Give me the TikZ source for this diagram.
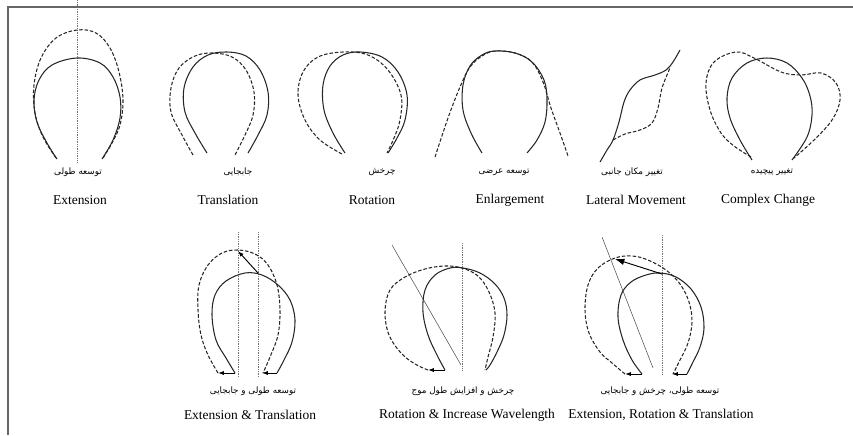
\documentclass[tikz,border=0pt]{standalone}
\usepackage{fontspec}
\setmainfont{Liberation Serif}
\newfontfamily\farsi[Script=Arabic]{DejaVu Sans}
\TeXXeTstate=1
\usetikzlibrary{arrows.meta}

\begin{document}
\begin{tikzpicture}[
  x=0.03cm, y=-0.03cm,
  frame/.style={line width=1.1pt, draw=black!60},
  shoe/.style={line width=0.9pt, draw=black!85, line join=round},
  shoeD/.style={shoe, dash pattern=on 3pt off 1.6pt},
  guide/.style={line width=0.6pt, draw=black!55, dash pattern=on 0.7pt off 0.8pt},
  slant/.style={line width=0.45pt, draw=black!70},
  mvarrow/.style={line width=0.8pt, draw=black, -{Latex[length=5pt,width=3.5pt]}},
  bigarrow/.style={line width=0.8pt, draw=black, -{Latex[length=8pt,width=5.5pt]}},
  fa/.style={font=\farsi\fontsize{7.5}{9}\selectfont, inner sep=0pt},
  en/.style={font=\fontsize{11.5}{13}\selectfont, inner sep=0pt},
]
\useasboundingbox (0,0) rectangle (853,435);

% ── frame ────────────────────────────────────────────────
\draw[frame] (8,435) -- (8,7) -- (853,7);

% ── Extension ────────────────────────────────────────────
\draw[guide] (77,0) -- (77,163);
\draw[shoe] plot[smooth, tension=0.6] coordinates {(57,159) (47,143) (37,122) (34,100) (39,80) (52,65) (77,58) (100,63) (113,77) (120,97) (120,118) (113,140) (102,159)};
\draw[shoeD] plot[smooth, tension=0.6] coordinates {(56,158) (43,137) (35,113) (34,85) (41,58) (56,38) (77,30) (96,33) (110,48) (119,72) (123,100) (120,125) (112,143) (103,158)};
\node[fa] (faExt) at (78,172) {\beginR توسعه طولی\endR};
\node[en] (enExt) at (80,200) {Extension};

% ── Translation ──────────────────────────────────────────
\draw[shoe] plot[smooth, tension=0.6] coordinates {(207,153) (195,133) (185,112) (184,88) (193,67) (208,55) (227,52) (246,56) (260,70) (268,92) (267,115) (258,135) (248,153)};
\draw[shoeD] plot[smooth, tension=0.6] coordinates {(193,155) (182,135) (171,112) (171,88) (179,68) (195,56) (213,53) (232,57) (246,70) (254,92) (253,115) (245,135) (235,155)};
\node[fa] (faTra) at (238,172) {\beginR جابجایی\endR};
\node[en] (enTra) at (228,200) {Translation};

% ── Rotation ─────────────────────────────────────────────
\draw[shoe] plot[smooth, tension=0.6] coordinates {(345,153) (333,133) (324,110) (323,85) (330,66) (343,55) (360,52) (382,57) (398,72) (407,95) (405,120) (397,138) (388,153)};
\draw[shoeD] plot[smooth, tension=0.6] coordinates {(342,154) (320,140) (305,120) (298,95) (303,72) (318,57) (343,52) (368,55) (388,70) (401,95) (400,120) (394,138) (387,153)};
\node[fa] (faRot) at (382,172) {\beginR چرخش\endR};
\node[en] (enRot) at (372,200) {Rotation};

% ── Enlargement ──────────────────────────────────────────
\draw[shoe] plot[smooth, tension=0.6] coordinates {(482,153) (471,133) (463,110) (463,85) (470,66) (482,55) (495,51) (515,53) (532,62) (544,80) (547,100) (545,122) (537,140) (527,153)};
\draw[shoeD] plot[smooth, tension=0.6] coordinates {(435,157) (448,118) (460,87) (470,67) (482,56) (495,51) (515,53) (532,62) (543,82) (551,108) (560,133) (568,156)};
\node[fa] (faEnl) at (504,172) {\beginR توسعه عرضی\endR};
\node[en] (enEnl) at (510,200) {Enlargement};

% ── Lateral Movement ─────────────────────────────────────
\draw[shoe] plot[smooth, tension=0.6] coordinates {(600,162) (607,150) (613,140) (619,122) (624,102) (630,90) (640,80) (655,75) (666,70) (673,62) (680,50)};
\draw[shoeD] plot[smooth, tension=0.6] coordinates {(613,140) (625,134) (640,130) (652,123) (658,108) (662,88) (670,68)};
\node[fa] (faLat) at (632,172) {\beginR تغییر مکان جانبی\endR};
\node[en] (enLat) at (636,200) {Lateral Movement};

% ── Complex Change ───────────────────────────────────────
\draw[shoe] plot[smooth, tension=0.6] coordinates {(752,160) (740,140) (730,118) (727,98) (732,78) (747,63) (767,58) (787,63) (802,78) (810,96) (812,115) (807,137) (792,160)};
\draw[shoeD] plot[smooth, tension=0.6] coordinates {(751,157) (734,146) (721,133) (710,110) (706,83) (714,62) (736,52) (754,58) (781,72) (801,75) (821,73) (836,83) (840,100) (832,120) (814,140) (794,158)};
\node[fa] (faCpx) at (772,172) {\beginR تغییر پیچیده\endR};
\node[en] (enCpx) at (768,200) {Complex Change};

% ── Extension & Translation ──────────────────────────────
\draw[guide] (238,232) -- (238,377);
\draw[guide] (258,232) -- (258,377);
\draw[shoe] plot[smooth, tension=0.6] coordinates {(235,373) (226,358) (216,340) (212,315) (215,295) (226,281) (245,273) (262,275) (278,285) (290,300) (295,320) (292,342) (284,360) (277,373)};
\draw[shoeD] plot[smooth, tension=0.6] coordinates {(218,373) (208,355) (201,335) (198,310) (199,285) (208,265) (222,253) (238,250) (255,254) (268,265) (277,285) (280,310) (278,335) (270,357) (263,373)};
\coordinate (etL0) at (235,373); \coordinate (etL1) at (218,373);
\coordinate (etR0) at (277,373); \coordinate (etR1) at (262,373);
\coordinate (etT0) at (258,273); \coordinate (etT1) at (238,251);
\draw[mvarrow] (etL0) -- (etL1);
\draw[mvarrow] (etR0) -- (etR1);
\draw[mvarrow] (etT0) -- (etT1);
\node[fa] (faET) at (253,391) {\beginR توسعه طولی و جابجایی\endR};
\node[en] (enET) at (250,415) {Extension \& Translation};

% ── Rotation & Increase Wavelength ───────────────────────
\draw[guide] (462,243) -- (462,370);
\draw[slant] (392,245) -- (461,365);
\draw[shoe] plot[smooth, tension=0.6] coordinates {(445,370) (437,355) (428,335) (423,312) (425,290) (435,275) (450,268) (463,268) (480,273) (495,284) (504,298) (507,315) (504,335) (497,352) (490,365) (486,370)};
\draw[shoeD] plot[smooth, tension=0.6] coordinates {(428,370) (415,364) (401,353) (389,335) (385,312) (390,290) (405,277) (425,269) (445,266) (462,268) (478,276) (489,292) (495,313) (493,337) (488,357) (485,370)};
\coordinate (riL0) at (445,370); \coordinate (riL1) at (428,370);
\draw[mvarrow] (riL0) -- (riL1);
\node[fa] (faRI) at (463,391) {\beginR چرخش و افزایش طول موج\endR};
\node[en] (enRI) at (467,415) {Rotation \& Increase Wavelength};

% ── Extension, Rotation & Translation ────────────────────
\draw[guide] (662,235) -- (662,375);
\draw[slant] (602,237) -- (653,368);
\draw[shoe] plot[smooth, tension=0.6] coordinates {(642,374) (632,360) (623,340) (618,317) (621,295) (631,282) (646,275) (660,273) (676,277) (691,289) (701,307) (704,328) (700,347) (693,362) (687,374)};
\draw[shoeD] plot[smooth, tension=0.6] coordinates {(625,374) (612,363) (600,352) (589,333) (585,310) (588,285) (598,268) (615,258) (632,256) (648,260) (666,270) (680,284) (689,302) (692,322) (688,343) (680,360) (673,374)};
\coordinate (ertL0) at (642,374); \coordinate (ertL1) at (625,374);
\coordinate (ertR0) at (687,374); \coordinate (ertR1) at (672,374);
\coordinate (ertT0) at (662,274); \coordinate (ertT1) at (615,259);
\draw[mvarrow] (ertL0) -- (ertL1);
\draw[mvarrow] (ertR0) -- (ertR1);
\draw[bigarrow] (ertT0) -- (ertT1);
\node[fa] (faERT) at (660,391) {\beginR توسعه طولی، چرخش و جابجایی\endR};
\node[en] (enERT) at (661,415) {Extension, Rotation \& Translation};

\end{tikzpicture}
\end{document}
